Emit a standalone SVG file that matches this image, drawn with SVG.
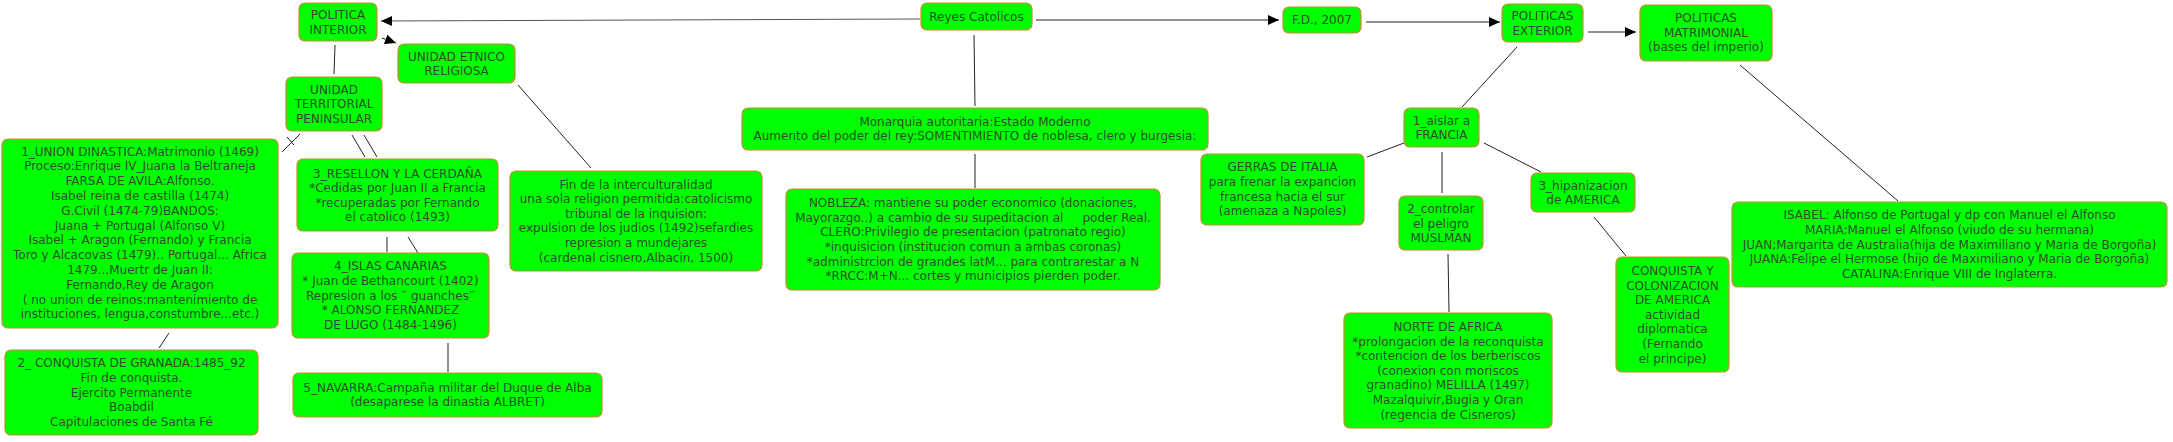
<svg xmlns="http://www.w3.org/2000/svg" width="2173" height="442" viewBox="0 0 2173 442">
<defs>
<style>
.n rect{fill:#00ff00;stroke:#c3902c;stroke-width:1.2}
.n text{font-family:"DejaVu Sans","Liberation Sans",sans-serif;font-size:12px;fill:#2a4f2a;text-anchor:middle;white-space:pre}
.c line,.c path{stroke:#222;stroke-width:1;fill:none}
</style>
<marker id="ah" markerUnits="userSpaceOnUse" markerWidth="12" markerHeight="11" refX="11" refY="5" orient="auto">
<path d="M0,0 L11,5 L0,10 z" fill="#000"/>
</marker>
</defs>
<rect width="2173" height="442" fill="#fff"/>
<g class="c" id="connectors">
<line x1="920" y1="19" x2="381" y2="21" marker-end="url(#ah)" style="stroke:#555"/>
<line x1="382" y1="38" x2="396" y2="43" marker-end="url(#ah)"/>
<line x1="335" y1="45" x2="334" y2="74"/>
<line x1="300" y1="134" x2="282" y2="152"/>
<line x1="287" y1="137" x2="294" y2="145"/>
<line x1="364" y1="135" x2="377" y2="157"/>
<line x1="352" y1="135" x2="365" y2="157"/>
<line x1="408" y1="237" x2="418" y2="253"/>
<line x1="387" y1="237" x2="387" y2="252"/>
<line x1="448" y1="343" x2="448" y2="372"/>
<line x1="169" y1="333" x2="159" y2="348"/>
<line x1="518" y1="85" x2="591" y2="168"/>
<line x1="974" y1="35" x2="975" y2="106"/>
<line x1="975" y1="154" x2="975" y2="188"/>
<line x1="1036" y1="20" x2="1279" y2="20" marker-end="url(#ah)"/>
<line x1="1366" y1="22" x2="1500" y2="22" marker-end="url(#ah)"/>
<line x1="1588" y1="32" x2="1636" y2="32" marker-end="url(#ah)"/>
<line x1="1517" y1="47" x2="1462" y2="107"/>
<line x1="1404" y1="143" x2="1367" y2="157"/>
<line x1="1442" y1="152" x2="1442" y2="193"/>
<line x1="1484" y1="143" x2="1541" y2="172"/>
<line x1="1448" y1="254" x2="1449" y2="312"/>
<line x1="1594" y1="217" x2="1626" y2="256"/>
<line x1="1740" y1="65" x2="1898" y2="201"/>
</g>
<g class="n" id="politica-interior"><rect x="299" y="3" width="78" height="38" rx="6"/><text x="338" y="19">POLITICA<tspan x="338" dy="14.6">INTERIOR</tspan></text></g>
<g class="n" id="unidad-etnico"><rect x="398" y="44" width="117" height="39" rx="6"/><text x="456.5" y="60.5">UNIDAD ETNICO<tspan x="456.5" dy="14.6">RELIGIOSA</tspan></text></g>
<g class="n" id="unidad-territorial"><rect x="286" y="77" width="96" height="54" rx="6"/><text x="334" y="93.7">UNIDAD<tspan x="334" dy="14.6">TERRITORIAL</tspan><tspan x="334" dy="14.6">PENINSULAR</tspan></text></g>
<g class="n" id="union-dinastica"><rect x="2" y="139" width="276" height="189" rx="6"/><text x="140" y="155.5">1_UNION DINASTICA:Matrimonio (1469)<tspan x="140" dy="14.8">Proceso:Enrique IV_Juana la Beltraneja</tspan><tspan x="140" dy="14.8">FARSA DE AVILA:Alfonso.</tspan><tspan x="140" dy="14.8">Isabel reina de castilla (1474)</tspan><tspan x="140" dy="14.8">G.Civil (1474-79)BANDOS:</tspan><tspan x="140" dy="14.8">Juana + Portugal (Alfonso V)</tspan><tspan x="140" dy="14.8">Isabel + Aragon (Fernando) y Francia</tspan><tspan x="140" dy="14.8">Toro y Alcacovas (1479).. Portugal... Africa</tspan><tspan x="140" dy="14.8">1479...Muertr de Juan II:</tspan><tspan x="140" dy="14.8">Fernando,Rey de Aragon</tspan><tspan x="140" dy="14.8">( no union de reinos:mantenimiento de</tspan><tspan x="140" dy="14.8">instituciones, lengua,constumbre...etc.)</tspan></text></g>
<g class="n" id="conquista-granada"><rect x="5" y="350" width="253" height="85" rx="6"/><text x="131.5" y="367.4">2_ CONQUISTA DE GRANADA:1485_92<tspan x="131.5" dy="14.6">Fin de conquista.</tspan><tspan x="131.5" dy="14.6">Ejercito Permanente</tspan><tspan x="131.5" dy="14.6">Boabdil</tspan><tspan x="131.5" dy="14.6">Capitulaciones de Santa Fé</tspan></text></g>
<g class="n" id="resellon"><rect x="297" y="159" width="201" height="72" rx="6"/><text x="397.5" y="177.5">3_RESELLON Y LA CERDAÑA<tspan x="397.5" dy="14.6">*Cedidas por Juan II a Francia</tspan><tspan x="397.5" dy="14.6">*recuperadas por Fernando</tspan><tspan x="397.5" dy="14.6">el catolico (1493)</tspan></text></g>
<g class="n" id="islas-canarias"><rect x="292" y="253" width="197" height="85" rx="6"/><text x="390.5" y="270.3">4_ISLAS CANARIAS<tspan x="390.5" dy="14.6">* Juan de Bethancourt (1402)</tspan><tspan x="390.5" dy="14.6">Represion a los ¨ guanches¨</tspan><tspan x="390.5" dy="14.6">* ALONSO FERNANDEZ</tspan><tspan x="390.5" dy="14.6">DE LUGO (1484-1496)</tspan></text></g>
<g class="n" id="navarra"><rect x="293" y="373" width="309" height="44" rx="6"/><text x="447.5" y="391.8">5_NAVARRA:Campaña militar del Duque de Alba<tspan x="447.5" dy="14.6">(desaparese la dinastia ALBRET)</tspan></text></g>
<g class="n" id="interculturalidad"><rect x="510" y="171" width="252" height="100" rx="6"/><text x="636" y="188.5">Fin de la interculturalidad<tspan x="636" dy="14.6">una sola religion permitida:catolicismo</tspan><tspan x="636" dy="14.6">tribunal de la inquision:</tspan><tspan x="636" dy="14.6">expulsion de los judios (1492)sefardies</tspan><tspan x="636" dy="14.6">represion a mundejares</tspan><tspan x="636" dy="14.6">(cardenal cisnero,Albacin, 1500)</tspan></text></g>
<g class="n" id="reyes-catolicos"><rect x="921" y="3" width="111" height="27" rx="6"/><text x="976.5" y="20.8">Reyes Catolicos</text></g>
<g class="n" id="monarquia"><rect x="742" y="108" width="466" height="42" rx="6"/><text x="975" y="125.5">Monarquia autoritaria:Estado Moderno<tspan x="975" dy="14.6">Aumento del poder del rey:SOMENTIMIENTO de noblesa, clero y burgesia:</tspan></text></g>
<g class="n" id="nobleza"><rect x="786" y="189" width="374" height="101" rx="6"/><text x="973" y="207.2">NOBLEZA: mantiene su poder economico (donaciones,<tspan x="973" dy="14.6">Mayorazgo..) a cambio de su supeditacion al     poder Real.</tspan><tspan x="973" dy="14.6">CLERO:Privilegio de presentacion (patronato regio)</tspan><tspan x="973" dy="14.6">*inquisicion (institucion comun a ambas coronas)</tspan><tspan x="973" dy="14.6">*administrcion de grandes latM... para contrarestar a N</tspan><tspan x="973" dy="14.6">*RRCC:M+N... cortes y municipios pierden poder.</tspan></text></g>
<g class="n" id="fd-2007"><rect x="1283" y="7" width="78" height="26" rx="6"/><text x="1322" y="23.8">F.D., 2007</text></g>
<g class="n" id="politicas-exterior"><rect x="1502" y="4" width="81" height="38" rx="6"/><text x="1542.5" y="20">POLITICAS<tspan x="1542.5" dy="14.6">EXTERIOR</tspan></text></g>
<g class="n" id="politicas-matrimonial"><rect x="1640" y="5" width="132" height="56" rx="6"/><text x="1706" y="22">POLITICAS<tspan x="1706" dy="14.6">MATRIMONIAL</tspan><tspan x="1706" dy="14.6">(bases del imperio)</tspan></text></g>
<g class="n" id="aislar-francia"><rect x="1404" y="108" width="75" height="39" rx="6"/><text x="1441.5" y="124.8">1_aislar a<tspan x="1441.5" dy="14.6">FRANCIA</tspan></text></g>
<g class="n" id="gerras-italia"><rect x="1201" y="154" width="163" height="71" rx="6"/><text x="1282.5" y="171.3">GERRAS DE ITALIA<tspan x="1282.5" dy="14.6">para frenar la expancion</tspan><tspan x="1282.5" dy="14.6">francesa hacia el sur</tspan><tspan x="1282.5" dy="14.6">(amenaza a Napoles)</tspan></text></g>
<g class="n" id="controlar-peligro"><rect x="1399" y="196" width="84" height="54" rx="6"/><text x="1441" y="213.2">2_controlar<tspan x="1441" dy="14.6">el peligro</tspan><tspan x="1441" dy="14.6">MUSLMAN</tspan></text></g>
<g class="n" id="hipanizacion"><rect x="1531" y="173" width="104" height="39" rx="6"/><text x="1583" y="189.8">3_hipanizacion<tspan x="1583" dy="14.6">de AMERICA</tspan></text></g>
<g class="n" id="norte-africa"><rect x="1344" y="313" width="208" height="115" rx="6"/><text x="1448" y="331">NORTE DE AFRICA<tspan x="1448" dy="14.6">*prolongacion de la reconquista</tspan><tspan x="1448" dy="14.6">*contencion de los berberiscos</tspan><tspan x="1448" dy="14.6">(conexion con moriscos</tspan><tspan x="1448" dy="14.6">granadino) MELILLA (1497)</tspan><tspan x="1448" dy="14.6">Mazalquivir,Bugia y Oran</tspan><tspan x="1448" dy="14.6">(regencia de Cisneros)</tspan></text></g>
<g class="n" id="conquista-america"><rect x="1616" y="257" width="113" height="115" rx="6"/><text x="1672.5" y="275">CONQUISTA Y<tspan x="1672.5" dy="14.6">COLONIZACION</tspan><tspan x="1672.5" dy="14.6">DE AMERICA</tspan><tspan x="1672.5" dy="14.6">actividad</tspan><tspan x="1672.5" dy="14.6">diplomatica</tspan><tspan x="1672.5" dy="14.6">(Fernando</tspan><tspan x="1672.5" dy="14.6">el principe)</tspan></text></g>
<g class="n" id="isabel"><rect x="1732" y="202" width="435" height="85" rx="6"/><text x="1949.5" y="219.4">ISABEL: Alfonso de Portugal y dp con Manuel el Alfonso<tspan x="1949.5" dy="14.6">MARIA:Manuel el Alfonso (viudo de su hermana)</tspan><tspan x="1949.5" dy="14.6">JUAN;Margarita de Australia(hija de Maximiliano y Maria de Borgoña)</tspan><tspan x="1949.5" dy="14.6">JUANA:Felipe el Hermose (hijo de Maximiliano y Maria de Borgoña)</tspan><tspan x="1949.5" dy="14.6">CATALINA:Enrique VIII de Inglaterra.</tspan></text></g>
</svg>
